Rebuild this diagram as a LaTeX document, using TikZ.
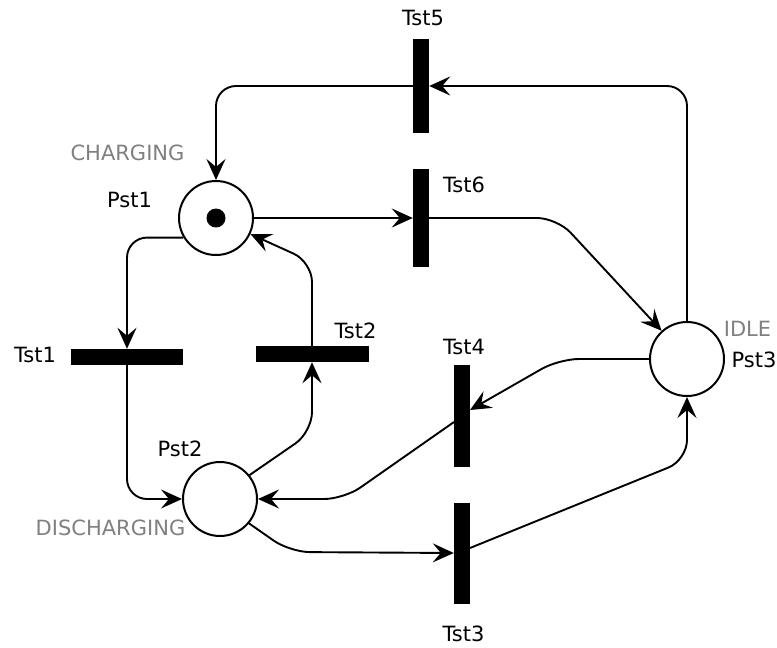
\documentclass[tikz,border=0pt]{standalone}
\usepackage{fontspec}
\setmainfont{DejaVu Sans}
\usetikzlibrary{arrows.meta}
\definecolor{lblgray}{HTML}{808080}
\begin{document}
\begin{tikzpicture}[x=1pt,y=-1pt,
  place/.style={draw,circle,line width=2pt,minimum size=74pt,inner sep=0pt},
  vbar/.style={fill=black,draw=none,minimum width=16pt,inner sep=0pt},
  hbar/.style={fill=black,draw=none,minimum height=16pt,inner sep=0pt},
  arc/.style={line width=1.9pt,rounded corners=20pt,-{Stealth[length=21pt,width=19pt,inset=8pt]}},
  lbl/.style={font=\fontsize{21}{25}\selectfont,inner sep=0pt},
  glbl/.style={lbl,text=lblgray}]
\useasboundingbox (0,0) rectangle (777,648);
% places
\node[place] (Pst1) at (216,218) {};
\node[place] (Pst2) at (220,499) {};
\node[place] (Pst3) at (687,359) {};
\fill (Pst1.center) circle (9.5pt);
% transitions
\node[vbar,minimum height=94pt] (Tst5) at (421,86) {};
\node[vbar,minimum height=98pt] (Tst6) at (421,218) {};
\node[vbar,minimum height=102pt] (Tst4) at (462,416) {};
\node[vbar,minimum height=101pt] (Tst3) at (462,553) {};
\node[hbar,minimum width=112pt] (Tst1) at (127,357) {};
\node[hbar,minimum width=113pt] (Tst2) at (312,354) {};
% labels
\node[lbl] (lT5) at (423,18) {Tst5};
\node[glbl] (lCh) at (127.5,153) {CHARGING};
\node[lbl] (lP1) at (129.5,200) {Pst1};
\node[lbl] (lT6) at (464,184.5) {Tst6};
\node[lbl] (lT1) at (35,354.5) {Tst1};
\node[lbl] (lT2) at (355.5,330.5) {Tst2};
\node[lbl] (lT4) at (464,347) {Tst4};
\node[lbl] (lP2) at (180,449) {Pst2};
\node[glbl] (lDis) at (110.5,528) {DISCHARGING};
\node[glbl] (lIdle) at (747.5,328.5) {IDLE};
\node[lbl] (lP3) at (754,360) {Pst3};
\node[lbl] (lT3) at (463.5,633.5) {Tst3};
% waypoints
\coordinate (w6) at (557,218);
\coordinate (w2a) at (312,432);
\coordinate (w2b) at (312,262);
\coordinate (w4a) at (559,359);
\coordinate (t4in) at (470,410);
\coordinate (t4out) at (454,422);
\coordinate (w4b) at (344,499);
\coordinate (w3a) at (290,552);
\coordinate (t3out) at (470,548);
\coordinate (w3b) at (687,460);
% arcs
\draw[arc] (Tst5.west) -| (Pst1.north);
\draw[arc] (Pst3.north) |- (Tst5.east);
\draw[arc] (Pst1.east) -- (Tst6.west);
\draw[arc] (Tst6.east) -- (w6) -- (Pst3.132);
\draw[arc] (Pst1.211) -| (Tst1.north);
\draw[arc] (Tst1.south) |- (Pst2.west);
\draw[arc] (Pst2.39) -- (w2a) -- (Tst2.south);
\draw[arc] (Tst2.north) -- (w2b) -- (Pst1.-25);
\draw[arc] (Pst3.west) -- (w4a) -- (t4in);
\draw[arc] (t4out) -- (w4b) -- (Pst2.east);
\draw[arc] (Pst2.-40) -- (w3a) -- (Tst3.west);
\draw[arc] (t3out) -- (w3b) -- (Pst3.south);
\end{tikzpicture}
\end{document}
